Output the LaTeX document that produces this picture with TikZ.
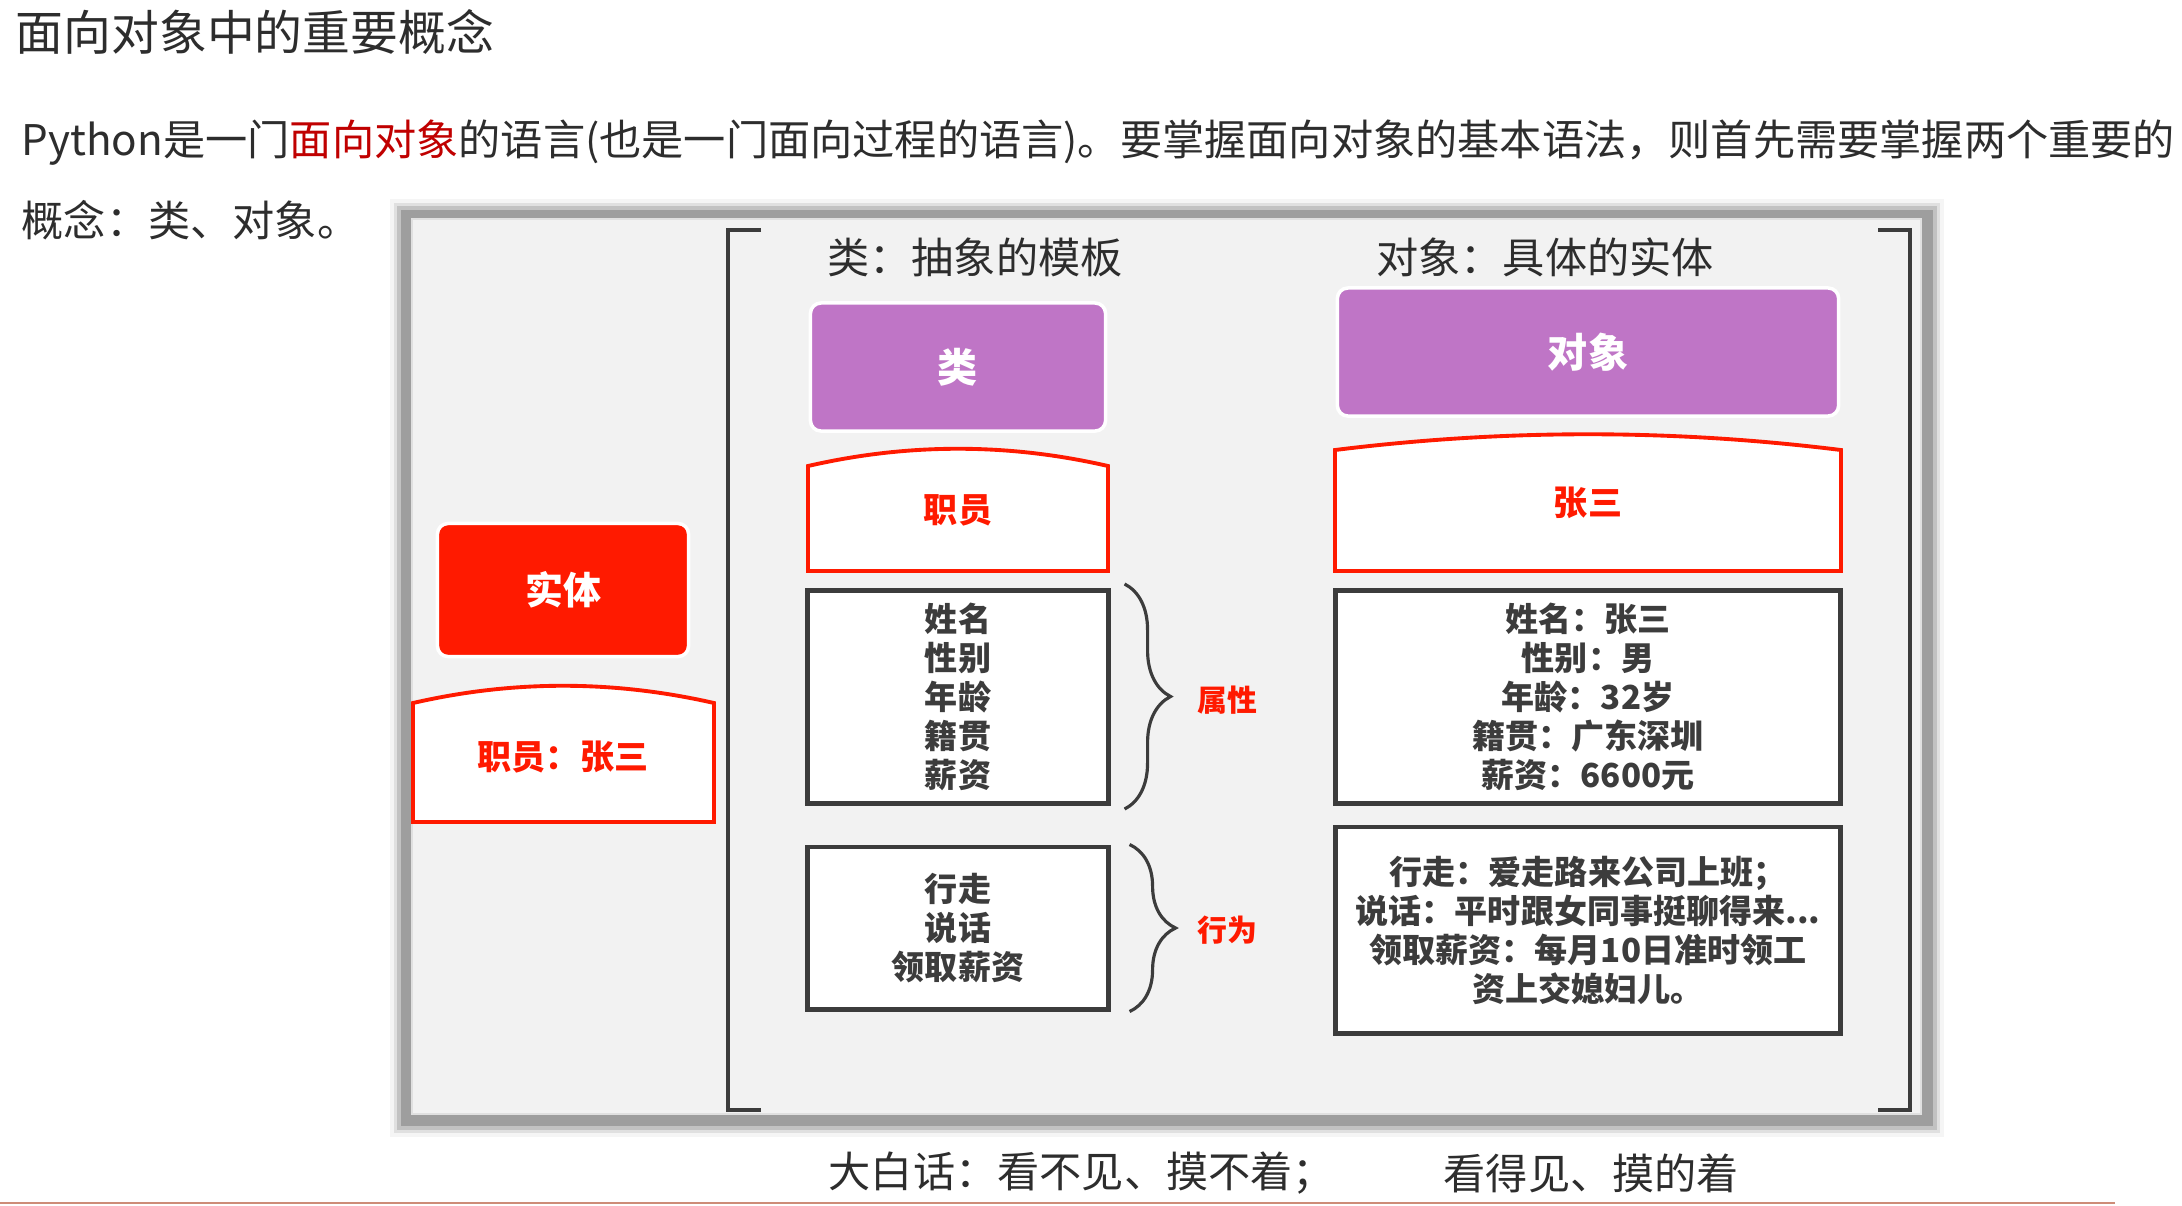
\documentclass[tikz,border=0pt]{standalone}
\usepackage{fontspec}
\setmainfont{Noto Sans CJK SC}
\usepackage{xcolor}
\usetikzlibrary{decorations.pathreplacing}

\definecolor{txtgray}{RGB}{45,45,45}
\definecolor{boxgray}{RGB}{60,60,60}
\definecolor{panelbg}{RGB}{242,242,242}
\definecolor{panelrim}{RGB}{158,158,158}
\definecolor{clspurple}{RGB}{191,117,198}
\definecolor{entred}{RGB}{255,26,0}
\definecolor{darkred}{RGB}{192,0,0}
\definecolor{footline}{RGB}{205,140,120}

\begin{document}
\begin{tikzpicture}[x=0.01cm, y=-0.01cm,
    plain/.style={inner sep=0pt, text=txtgray, font=\fontsize{12pt}{14pt}\selectfont},
    headbox/.style={fill=clspurple, draw=white, line width=1pt, rounded corners=3pt, text=white,
      font=\bfseries\fontsize{11.4pt}{13pt}\selectfont, minimum height=1.28cm},
    archline/.style={draw=entred, fill=white, line width=1.1pt},
    archtxt/.style={text=entred, font=\bfseries\fontsize{9.7pt}{12pt}\selectfont, inner sep=0pt},
    infobox/.style={draw=boxgray, fill=white, line width=1.4pt, align=center, text=boxgray,
      font=\bfseries\fontsize{9.4pt}{11.1pt}\selectfont, inner sep=0pt},
    curly/.style={draw=boxgray, line width=0.9pt, decorate, decoration={brace, amplitude=0.46cm}},
    sidetag/.style={text=entred, font=\bfseries\fontsize{8.5pt}{10pt}\selectfont, inner sep=0pt}]
    \useasboundingbox (0,0) rectangle (2182,1205);
    \fill[white] (0,0) rectangle (2182,1205);

    % texts above the panel
    \node[plain, anchor=west, font=\fontsize{13.6pt}{16pt}\selectfont] (title) at (15,32) {面向对象中的重要概念};
    \node[plain, anchor=west] (intro) at (21,143) {Python是一门\textcolor{darkred}{面向对象}的语言(也是一门面向过程的语言)。要掌握面向对象的基本语法，则首先需要掌握两个重要的};
    \node[plain, anchor=west] (intro2) at (21,220) {概念：类、对象。};

    % panel with its soft grey rim
    \fill[black!4] (390,199) rectangle (1944,1137);
    \fill[black!12] (394,203) rectangle (1940,1133);
    \fill[black!24] (397,206) rectangle (1937,1130);
    \fill[panelrim] (401,210) rectangle (1933,1126);
    \fill[black!12] (411,218) rectangle (1922,1115);
    \fill[panelbg] (413,220) rectangle (1920,1113);
    \draw[boxgray, line width=1.2pt] (761,230) -- (728,230) -- (728,1110) -- (761,1110);
    \draw[boxgray, line width=1.2pt] (1878,230) -- (1910,230) -- (1910,1110) -- (1878,1110);

    \node[plain] (clshead) at (975,257) {类：抽象的模板};
    \node[plain] (objhead) at (1545,257) {对象：具体的实体};

    \node[headbox, minimum width=2.95cm] (cls) at (958,367) {类};
    \node[headbox, minimum width=5.01cm] (obj) at (1588,352) {对象};
    \node[headbox, fill=entred, minimum width=2.51cm, minimum height=1.33cm,
      font=\bfseries\fontsize{10.8pt}{13pt}\selectfont] (ent) at (563,590) {实体};

    % boxes with an arched top
    \path[archline] (808,571) -- (808,466) .. controls (908,443) and (1008,443) .. (1108,466) -- (1108,571) -- cycle;
    \node[archtxt] (staff) at (958,510) {职员};
    \path[archline] (1335,571) -- (1335,450) .. controls (1504,429) and (1672,429) .. (1841,450) -- (1841,571) -- cycle;
    \node[archtxt] (zhang) at (1588,503) {张三};
    \path[archline] (413,822) -- (413,703) .. controls (513,680) and (613,680) .. (714,703) -- (714,822) -- cycle;
    \node[archtxt] (staffzhang) at (563,757) {职员：张三};

    \node[infobox, minimum width=3cm, minimum height=2.13cm] (attrcls) at (958,697) {姓名\\性别\\年龄\\籍贯\\薪资};
    \node[infobox, minimum width=5.04cm, minimum height=2.13cm] (attrobj) at (1588,697) {姓名：张三\\性别：男\\年龄：32岁\\籍贯：广东深圳\\薪资：6600元};
    \node[infobox, minimum width=3cm, minimum height=1.62cm] (actcls) at (958,928) {行走\\说话\\领取薪资};
    \node[infobox, minimum width=5.04cm, minimum height=2.06cm] (actobj) at (1588,930) {行走：爱走路来公司上班；\\说话：平时跟女同事挺聊得来...\\领取薪资：每月10日准时领工\\资上交媳妇儿。};

    \draw[curly] ([xshift=0.14cm,yshift=0.04cm]attrcls.north east) -- ([xshift=0.14cm,yshift=-0.03cm]attrcls.south east);
    \draw[curly] ([xshift=0.19cm]actcls.north east) -- ([xshift=0.19cm]actcls.south east);
    \node[sidetag] (attrtag) at (1227,700) {属性};
    \node[sidetag] (acttag) at (1227,930) {行为};

    % plain words under the panel
    \node[plain, anchor=west] (unseen) at (828,1173) {大白话：看不见、摸不着；};
    \node[plain, anchor=west] (seen) at (1443,1173) {看得见、摸的着};
    \draw[footline, line width=0.6pt] (0,1203) -- (2115,1203);
\end{tikzpicture}
\end{document}
